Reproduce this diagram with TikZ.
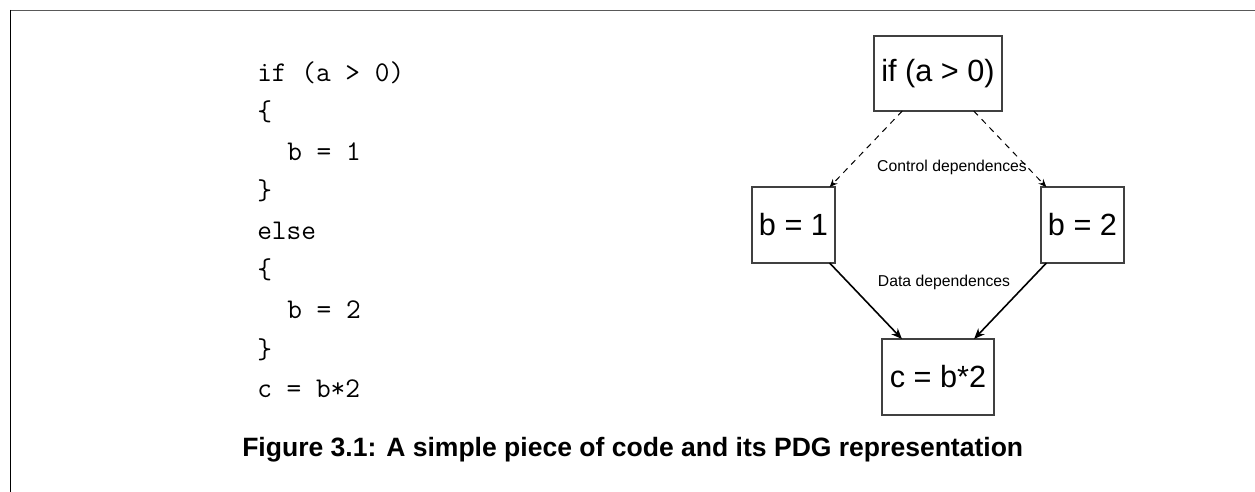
\documentclass[tikz,border=0pt]{standalone}
\usepackage{fontspec}
\setmainfont{Liberation Sans}
\usetikzlibrary{arrows.meta}

\begin{document}
\begin{tikzpicture}[x=0.75pt,y=-0.75pt,
  stmt/.style={draw=black!75, line width=0.8pt, inner sep=0pt, outer sep=0pt,
    minimum height=57pt, font=\fontsize{23}{27}\selectfont},
  codeline/.style={anchor=base west, inner sep=0pt, font=\ttfamily\fontsize{21.4}{25}\selectfont},
  deplabel/.style={inner sep=0pt, font=\fontsize{11.8}{14}\selectfont},
  ctrl/.style={draw=black, line width=0.75pt, dash pattern=on 4.5pt off 4pt,
    -{Stealth[length=6pt,width=5pt,inset=2pt]}},
  data/.style={draw=black, line width=1.2pt,
    -{Stealth[length=8pt,width=6.5pt,inset=2.5pt]}}]

\useasboundingbox (0,0) rectangle (1255,492);

% page frame
\draw[black!65, line width=1.1pt] (10,10.5) -- (1255,10.5);
\draw[black, line width=0.8pt] (10.5,10) -- (10.5,492);

% source listing
\node[codeline] (l1) at (257,81)    {if (a > 0)};
\node[codeline] (l2) at (257,120.6) {\{};
\node[codeline] (l3) at (287,160.1) {b = 1};
\node[codeline] (l4) at (257,199.7) {\}};
\node[codeline] (l5) at (257,239.3) {else};
\node[codeline] (l6) at (257,278.8) {\{};
\node[codeline] (l7) at (287,318.4) {b = 2};
\node[codeline] (l8) at (257,358)   {\}};
\node[codeline] (l9) at (257,397.5) {c = b*2};

% program dependence graph
\node[stmt, minimum width=96pt, minimum height=56.25pt] (cond) at (938,73.5) {if (a > 0)};
\node[stmt, minimum width=62.25pt] (b1) at (793.5,225) {b = 1};
\node[stmt, minimum width=62.25pt] (b2) at (1082.5,225) {b = 2};
\node[stmt, minimum width=84pt] (c) at (938,377) {c = b*2};

\draw[ctrl] (cond) -- (b1);
\draw[ctrl] (cond) -- (b2);
\draw[data] (b1) -- (c);
\draw[data] (b2) -- (c);

\node[deplabel] (ctrllbl) at (952,167) {Control dependences};
\node[deplabel] (datalbl) at (944,282) {Data dependences};

% caption
\node[anchor=base west, inner sep=0pt, font=\bfseries\fontsize{19.9}{23}\selectfont] (cap) at (242,456)
  {Figure 3.1: A simple piece of code and its PDG representation};
\end{tikzpicture}
\end{document}
